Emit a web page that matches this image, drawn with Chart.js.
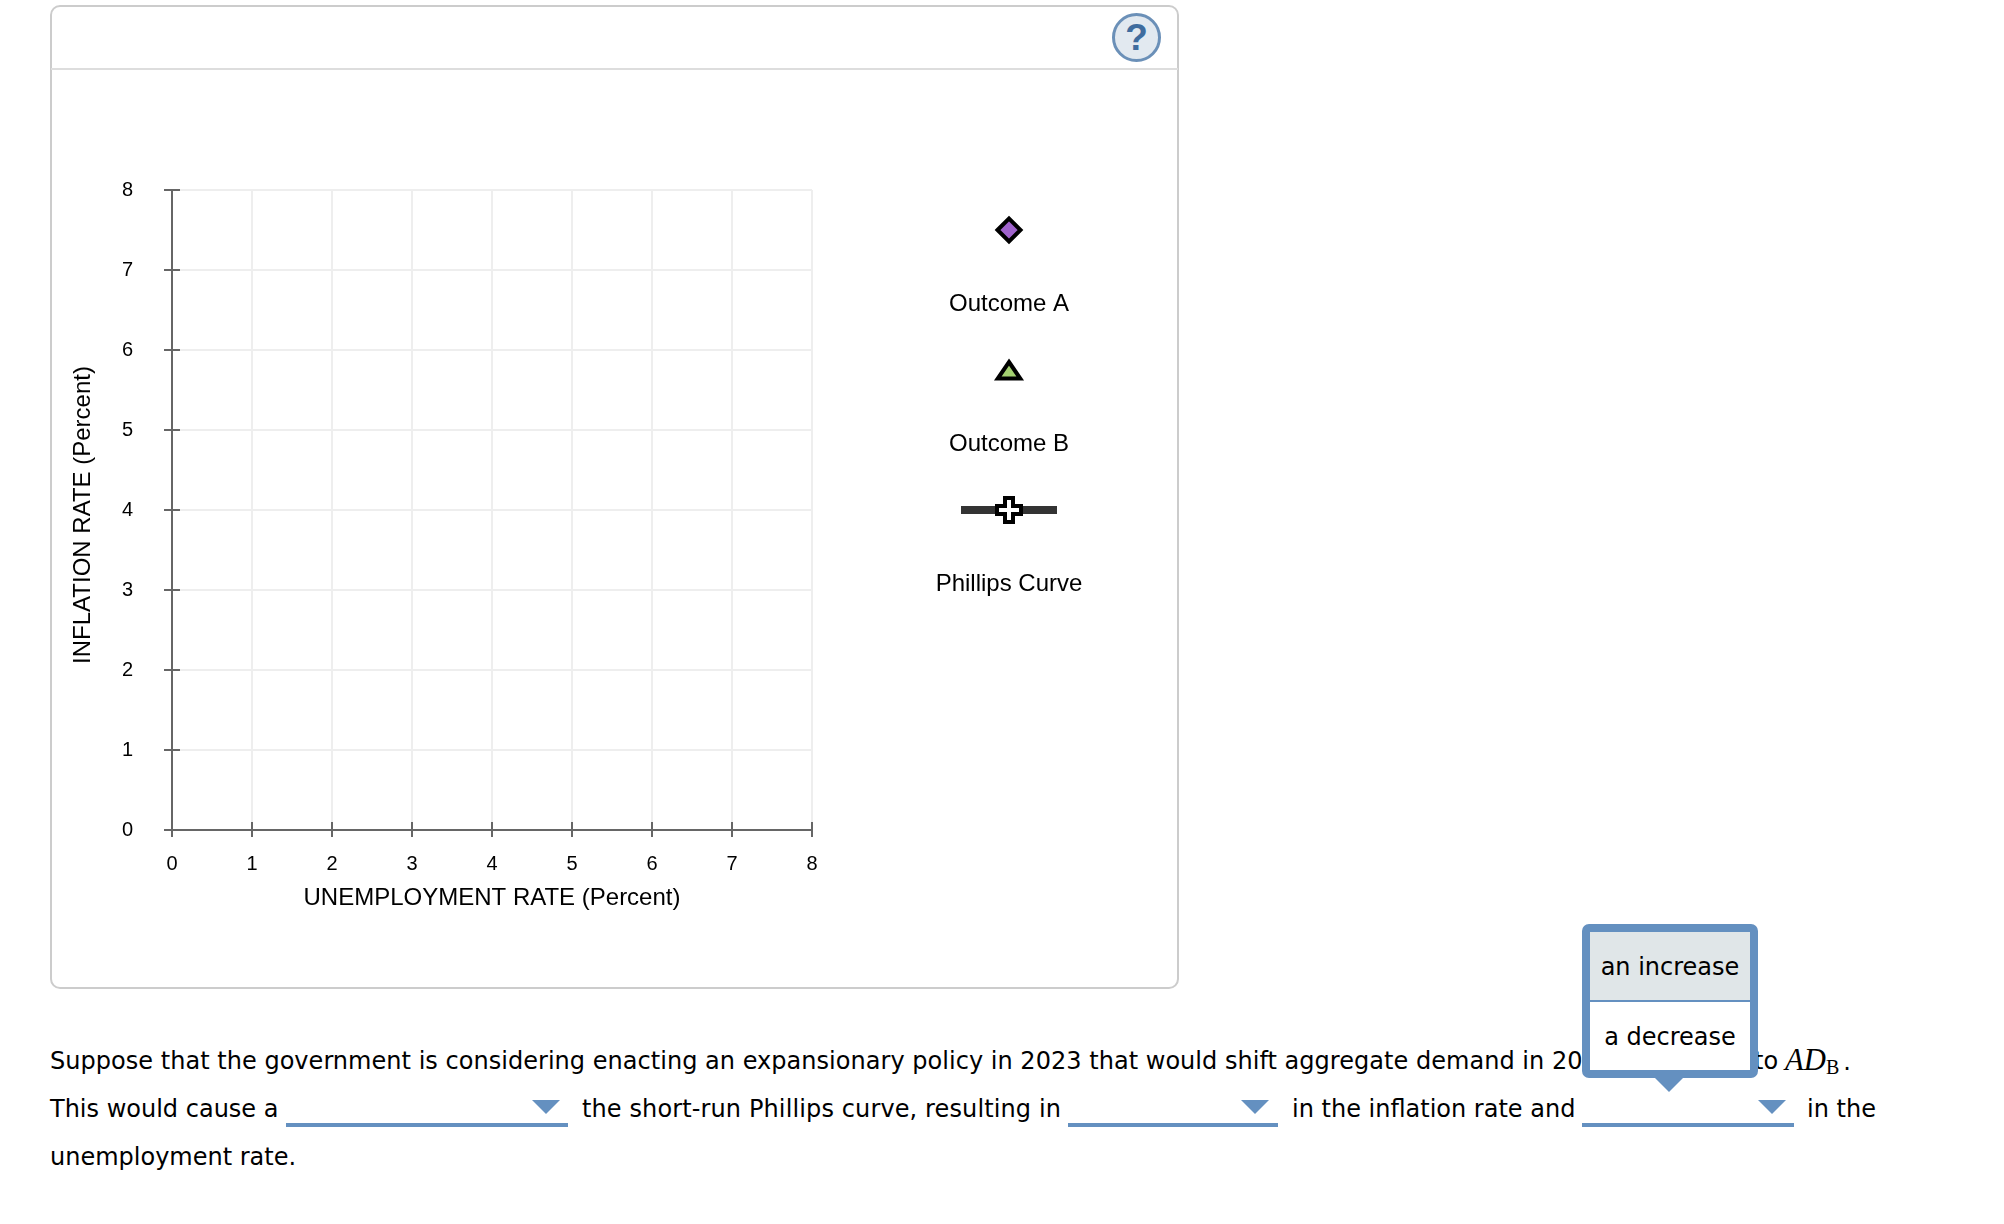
<!DOCTYPE html>
<html>
<head>
<meta charset="utf-8">
<script src="https://cdn.jsdelivr.net/npm/chart.js@4"></script>
<style>
html, body { margin: 0; background: #fff; }
body { position: relative; width: 2004px; height: 1224px; overflow: hidden; font-family: "DejaVu Sans", sans-serif; color: #000; }
#panel { position: absolute; left: 50px; top: 5px; width: 1125px; height: 980px; border: 2.5px solid #ccc; border-radius: 10px; box-sizing: content-box; }
#head { position: absolute; left: 51px; top: 68px; width: 1127px; height: 2px; background: #ddd; }
#help { position: absolute; left: 1112px; top: 13px; width: 43px; height: 43px; border: 3px solid #6b90b8; border-radius: 50%; background: #e2e9f0; color: #3f6c9e; font: bold 37px/43px "Liberation Sans", sans-serif; text-align: center; }
canvas { position: absolute; left: 0; top: 0; }
.t { position: absolute; font-size: 24px; line-height: 30px; white-space: nowrap; }
.u { position: absolute; top: 1123px; height: 4px; background: #6490c0; }
.a { position: absolute; top: 1100px; width: 0; height: 0; border-left: 14.5px solid transparent; border-right: 14.5px solid transparent; border-top: 14px solid #6490c0; }
#pop { position: absolute; left: 1582px; top: 924px; width: 176px; height: 154px; box-sizing: border-box; border: 8px solid #6490c0; border-radius: 7px; background: #fff; }
#pop div { height: 68px; text-align: center; font-size: 24px; line-height: 70px; }
#pop .first { background: #e0e6e8; border-bottom: 2px solid #6490c0; }
#popArrow { position: absolute; left: 1655px; top: 1078px; width: 0; height: 0; border-left: 14.5px solid transparent; border-right: 14.5px solid transparent; border-top: 14px solid #6490c0; }
.m { position: absolute; left: 1785px; top: 1045px; font-family: "Liberation Serif", serif; font-style: italic; font-size: 30.7px; line-height: 30px; white-space: nowrap; }
.s { font-family: "Liberation Serif", serif; font-style: normal; font-size: 20px; position: relative; top: 4px; }
.p { font-family: "DejaVu Sans", sans-serif; font-style: normal; font-size: 24px; margin-left: 4px; }
</style>
</head>
<body>
<div id="panel"></div>
<div id="head"></div>
<div id="help">?</div>
<canvas id="chart" width="1200" height="1000"></canvas>

<div class="t" style="left:50px;top:1046px;letter-spacing:0.03px">Suppose that the government is considering enacting an expansionary policy in 2023 that would shift aggregate demand in 20</div>
<div class="t" style="left:1754px;top:1046px">to</div>
<div class="m">AD<span class="s">B</span><span class="p">.</span></div>
<div class="t" style="left:50px;top:1094px">This would cause a</div>
<div class="u" style="left:286px;width:282px"></div>
<div class="a" style="left:532px"></div>
<div class="t" style="left:582px;top:1094px;letter-spacing:0.12px">the short-run Phillips curve, resulting in</div>
<div class="u" style="left:1068px;width:210px"></div>
<div class="a" style="left:1241px"></div>
<div class="t" style="left:1292px;top:1094px">in the inflation rate and</div>
<div class="u" style="left:1582px;width:212px"></div>
<div class="a" style="left:1758px"></div>
<div class="t" style="left:1807px;top:1094px">in the</div>
<div class="t" style="left:50px;top:1142px">unemployment rate.</div>

<div id="pop"><div class="first">an increase</div><div>a decrease</div></div>
<div id="popArrow"></div>

<script>
// graph is still blank in the reference, so the series have no points yet
var outcomeA = [];
var outcomeB = [];
var phillipsCurve = [];
var xTicks = [0, 1, 2, 3, 4, 5, 6, 7, 8];
var yTicks = [0, 1, 2, 3, 4, 5, 6, 7, 8];
var xTitle = 'UNEMPLOYMENT RATE (Percent)';
var yTitle = 'INFLATION RATE (Percent)';

var axisColor = '#666666';
var gridColor = '#eeeeee';
var labelFont = '"Liberation Sans", Arial, sans-serif';

// little ticks that run inside the plot area
var innerTicks = {
  id: 'innerTicks',
  afterDraw: function (chart) {
    var c = chart.ctx, a = chart.chartArea;
    c.save();
    c.strokeStyle = axisColor;
    c.lineWidth = 2;
    chart.scales.x.ticks.forEach(function (t) {
      var x = chart.scales.x.getPixelForValue(t.value);
      if (t.value === 0) return;
      c.beginPath(); c.moveTo(x, a.bottom); c.lineTo(x, a.bottom - 8); c.stroke();
    });
    chart.scales.y.ticks.forEach(function (t) {
      var y = chart.scales.y.getPixelForValue(t.value);
      if (t.value === 0) return;
      c.beginPath(); c.moveTo(a.left, y); c.lineTo(a.left + 8, y); c.stroke();
    });
    c.restore();
  }
};

// y title sits a few pixels below the plot centre in the reference
var yAxisTitle = {
  id: 'yAxisTitle',
  afterDraw: function (chart) {
    var c = chart.ctx;
    c.save();
    c.translate(90, 515);
    c.rotate(-Math.PI / 2);
    c.fillStyle = '#000';
    c.font = '24px ' + labelFont;
    c.textAlign = 'center';
    c.textBaseline = 'alphabetic';
    c.fillText(yTitle, 0, 0);
    c.restore();
  }
};

// legend column on the right, one marker and a label under it
var sideLegend = {
  id: 'sideLegend',
  afterDraw: function (chart) {
    var c = chart.ctx;
    var ds = chart.data.datasets;
    var cx = 1009;
    c.save();
    c.fillStyle = '#000';
    c.font = '24px ' + labelFont;
    c.textAlign = 'center';
    c.textBaseline = 'middle';
    c.fillText(ds[0].label, cx, 304);
    c.fillText(ds[1].label, cx, 444);
    c.fillText(ds[2].label, cx, 584);

    c.strokeStyle = '#000';
    c.lineWidth = 4;
    c.fillStyle = ds[0].backgroundColor;
    Chart.helpers.drawPoint(c, { pointStyle: ds[0].pointStyle, radius: 11.5, borderWidth: 4 }, cx, 230);
    c.fillStyle = ds[1].backgroundColor;
    Chart.helpers.drawPointLegend(c, { pointStyle: ds[1].pointStyle, radius: 11, borderWidth: 4 }, cx, 373, 26);

    c.fillStyle = ds[2].borderColor;
    c.fillRect(961, 506, 96, 8);
    c.fillStyle = '#fff';
    c.lineJoin = 'miter';
    var y = 510, o = 12, n = 4;
    c.beginPath();
    c.moveTo(cx - n, y - o); c.lineTo(cx + n, y - o); c.lineTo(cx + n, y - n);
    c.lineTo(cx + o, y - n); c.lineTo(cx + o, y + n); c.lineTo(cx + n, y + n);
    c.lineTo(cx + n, y + o); c.lineTo(cx - n, y + o); c.lineTo(cx - n, y + n);
    c.lineTo(cx - o, y + n); c.lineTo(cx - o, y - n); c.lineTo(cx - n, y - n);
    c.closePath();
    c.fill();
    c.stroke();
    c.restore();
  }
};

new Chart(document.getElementById('chart').getContext('2d'), {
  type: 'scatter',
  data: {
    datasets: [
      { label: 'Outcome A', data: outcomeA, pointStyle: 'rectRot', backgroundColor: '#a063cc', borderColor: '#000' },
      { label: 'Outcome B', data: outcomeB, pointStyle: 'triangle', backgroundColor: '#a3d070', borderColor: '#000' },
      { label: 'Phillips Curve', data: phillipsCurve, showLine: true, borderColor: '#333333', borderWidth: 8 }
    ]
  },
  options: {
    responsive: false,
    animation: false,
    devicePixelRatio: 1,
    layout: { padding: { left: 64, top: 190, right: 388, bottom: 87 } },
    plugins: { legend: { display: false }, tooltip: { enabled: false } },
    scales: {
      x: {
        type: 'linear',
        min: xTicks[0],
        max: xTicks[xTicks.length - 1],
        afterBuildTicks: function (s) { s.ticks = xTicks.map(function (v) { return { value: v }; }); },
        afterFit: function (s) { s.height = 83; },
        grid: { color: gridColor, lineWidth: 2, tickColor: axisColor, tickWidth: 2, tickLength: 7 },
        border: { color: axisColor, width: 2 },
        ticks: { color: '#000', font: { family: labelFont, size: 20 }, padding: 15, maxRotation: 0, autoSkip: false },
        title: { display: true, text: xTitle, color: '#000', font: { family: labelFont, size: 24 }, padding: { top: 8, bottom: 0 } }
      },
      y: {
        type: 'linear',
        min: yTicks[0],
        max: yTicks[yTicks.length - 1],
        afterBuildTicks: function (s) { s.ticks = yTicks.map(function (v) { return { value: v }; }); },
        afterFit: function (s) { s.width = 108; },
        grid: { color: gridColor, lineWidth: 2, tickColor: axisColor, tickWidth: 2, tickLength: 8 },
        border: { color: axisColor, width: 2 },
        ticks: { color: '#000', font: { family: labelFont, size: 20 }, padding: 31, autoSkip: false },
        title: { display: false }
      }
    }
  },
  plugins: [innerTicks, yAxisTitle, sideLegend]
});
</script>
</body>
</html>
